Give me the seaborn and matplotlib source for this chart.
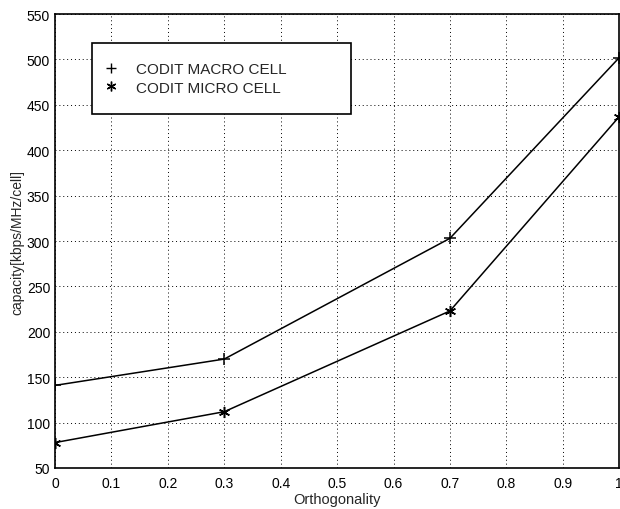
"""Capacity versus orthogonality for CODIT macro and micro cells."""

import matplotlib

matplotlib.use("Agg")
import matplotlib.pyplot as plt
import numpy as np
import pandas as pd
import seaborn as sns
from matplotlib.lines import Line2D

ORTHOGONALITY = [0.0, 0.3, 0.7, 1.0]
MACRO_CAPACITY = [141, 170, 303, 502]
MICRO_CAPACITY = [78, 112, 223, 437]
SERIES = ["CODIT MACRO CELL", "CODIT MICRO CELL"]
X_TICKS = [round(v, 1) for v in np.arange(0, 1.01, 0.1)]
Y_TICKS = list(range(50, 551, 50))


def main() -> None:
    df = pd.DataFrame(
        {
            "x": ORTHOGONALITY * 2,
            "y": MACRO_CAPACITY + MICRO_CAPACITY,
            "series": [SERIES[0]] * 4 + [SERIES[1]] * 4,
        }
    )

    sns.set_theme(style="white")
    plt.rcParams["font.family"] = ["Liberation Sans", "DejaVu Sans"]
    plt.rcParams["xtick.direction"] = "in"
    plt.rcParams["ytick.direction"] = "in"

    fig = plt.figure(figsize=(6.2, 5.1), dpi=100)
    ax = fig.add_axes([0.0887, 0.0804, 0.910, 0.890])

    markers = {SERIES[0]: "+", SERIES[1]: (6, 2, 0)}
    sns.lineplot(
        data=df,
        x="x",
        y="y",
        hue="series",
        style="series",
        palette=["black", "black"],
        markers=markers,
        dashes=False,
        markersize=8,
        markeredgewidth=1.1,
        markeredgecolor="black",
        linewidth=1.1,
        legend=False,
        ax=ax,
    )

    ax.set_xlim(0, 1)
    ax.set_ylim(50, 550)
    ax.set_xticks(X_TICKS)
    ax.set_xticklabels([f"{v:g}" for v in X_TICKS])
    ax.set_yticks(Y_TICKS)
    ax.tick_params(axis="x", labelsize=10, length=4, width=0.8, colors="black", pad=6)
    ax.tick_params(axis="y", labelsize=10, length=4, width=0.8, colors="black", pad=3.5)
    ax.grid(True, linestyle=(0, (1, 3)), color="black", linewidth=0.7)
    for spine in ax.spines.values():
        spine.set_color("black")
        spine.set_linewidth(1.2)
    ax.set_xlabel("Orthogonality", fontsize=10.5, labelpad=1.5)
    ax.set_ylabel("capacity[kbps/MHz/cell]", fontsize=10, labelpad=2)

    handles = [
        Line2D([], [], color="black", marker=markers[name], linestyle="none",
               markersize=7, markeredgewidth=1.0)
        for name in SERIES
    ]
    leg = ax.legend(
        handles,
        SERIES,
        loc="upper left",
        bbox_to_anchor=(0.0656, 0.780, 0.459, 0.156),
        mode="expand",
        fontsize=11,
        frameon=True,
        fancybox=False,
        borderpad=1.25,
        handlelength=0.0,
        handletextpad=1.6,
        labelspacing=0.3,
        borderaxespad=0,
    )
    leg.get_frame().set_edgecolor("black")
    leg.get_frame().set_linewidth(1.2)
    leg.get_frame().set_facecolor("white")
    leg.get_frame().set_alpha(1.0)

    fig.savefig("out.png", dpi=100)
    plt.close(fig)


if __name__ == "__main__":
    main()
